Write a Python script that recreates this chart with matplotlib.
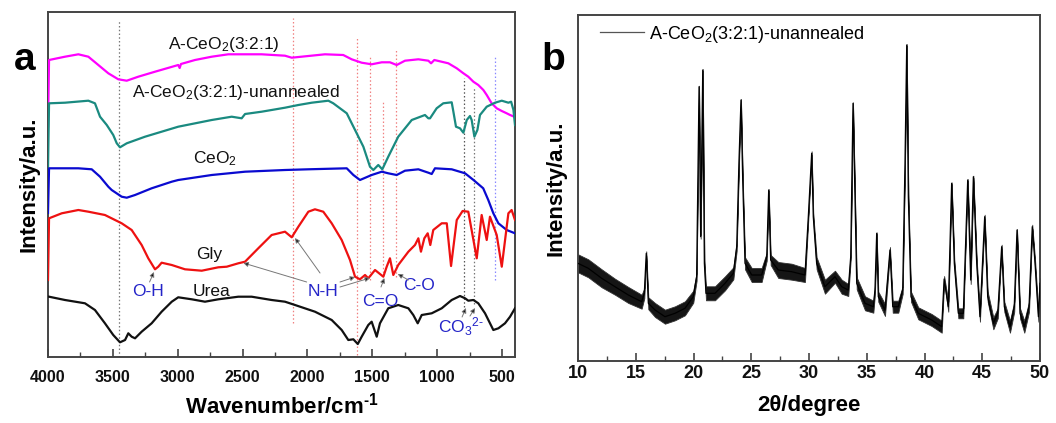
import matplotlib
matplotlib.use("Agg")
import matplotlib.pyplot as plt
from matplotlib.ticker import MultipleLocator
from matplotlib.lines import Line2D

plt.rcParams['font.family'] = ['Liberation Sans', 'DejaVu Sans']
plt.rcParams['mathtext.default'] = 'regular'

# ---------------- Panel a: FTIR ----------------
wn_ann = [4000, 3992, 3869, 3766, 3689, 3612, 3535, 3458, 3393, 3304, 3175, 2996, 2985, 2975,
          2867, 2738, 2610, 2353, 2173, 2121, 1993, 1865, 1724, 1659, 1582, 1505, 1427, 1364,
          1312, 1248, 1145, 1068, 1047, 1022, 914, 849, 801, 760, 721, 683, 644, 618, 580,
          541, 502, 464, 438, 400]
int_ann = [230, 297, 300.3, 302.7, 300.3, 292, 283.7, 277.7, 276.3, 280.3, 285.3, 292, 289, 293,
           297, 300.3, 302.7, 302.7, 301.3, 299.3, 301, 302.7, 302, 297.7, 294.3, 292.7, 294.7, 294.7,
           292, 296.3, 297.7, 296.3, 293.7, 297, 293.7, 288.7, 284, 280.3, 275.3, 272, 267, 262, 253.7,
           248.7, 246, 243.7, 242, 240]

wn_unann = [4000, 3992, 3869, 3689, 3638, 3599, 3547, 3497, 3470, 3445, 3393, 3252, 2996, 2738,
            2584, 2507, 2481, 2353, 2173, 2070, 1967, 1839, 1801, 1749, 1697, 1633, 1569, 1518,
            1492, 1454, 1423, 1377, 1300, 1196, 1094, 1068, 1055, 1004, 953, 888, 875, 855, 824,
            798, 772, 747, 734, 713, 690, 670, 618, 554, 502, 451, 430, 412, 400]
int_unann = [188, 253.7, 254.3, 256.3, 253.7, 240.3, 232, 222, 213.7, 209.7, 213.7, 220.3, 230.3, 237,
             240.3, 238.7, 243, 245.3, 249.3, 252, 254.3, 256.3, 253.7, 248.7, 243.7, 227, 210.3, 190.3,
             187, 192, 187.7, 200.3, 220.3, 237, 242, 238.7, 238.7, 248.7, 253.7, 254.7, 245.3, 230.3, 228.7,
             224.3, 237, 241, 237, 220.3, 227, 242, 250.3, 254.3, 256.3, 254.3, 255.3, 247, 232]

wn_ceo2 = [4000, 3992, 3766, 3663, 3599, 3535, 3509, 3432, 3393, 3329, 3201, 3046, 2996, 2738,
           2481, 2173, 1993, 1697, 1646, 1595, 1505, 1427, 1377, 1312, 1248, 1145, 1068, 1042,
           1017, 888, 785, 720, 645, 606, 567, 528, 464, 400]
int_ceo2 = [144, 188.7, 188.7, 187.7, 180.3, 170.3, 167, 160.3, 159.3, 162, 168.7, 175.3, 177, 182,
            185.3, 187, 187.7, 188.7, 182, 177, 182, 185.3, 183.7, 182, 186.3, 187.7, 184.3, 183,
            188.7, 187.7, 183.7, 177, 168.7, 157, 143.7, 133.7, 127, 123.7]

wn_gly = [4000, 3992, 3894, 3766, 3689, 3561, 3432, 3355, 3278, 3227, 3175, 3150, 3124, 3046,
          2944, 2815, 2687, 2622, 2533, 2481, 2379, 2276, 2173, 2121, 2070, 1993, 1942, 1878,
          1813, 1736, 1672, 1633, 1595, 1556, 1531, 1479, 1415, 1389, 1364, 1338, 1300, 1222,
          1171, 1145, 1125, 1099, 1073, 1053, 1030, 965, 926, 893, 849, 804, 760, 695, 657,
          618, 593, 541, 502, 451, 426, 400]
int_gly = [77, 138.7, 143.7, 147, 145.3, 142, 133.7, 127, 112, 98.7, 87.7, 90.3, 94.3, 92,
           87.7, 86.3, 89.7, 90.3, 93.7, 95.3, 108.7, 122, 125.3, 119.7, 130.3, 145.3, 147.7, 145.3,
           133.7, 117, 97, 80.3, 77.7, 82, 78.7, 87, 80.3, 90.3, 98.7, 82, 92, 105.3,
           112, 118.7, 105.3, 118.7, 123.7, 112, 127, 133.7, 133.7, 91, 137, 146, 145.3, 98.7, 142,
           117, 140.3, 122, 90.3, 143.7, 147, 137]

wn_urea = [3992, 3869, 3715, 3638, 3561, 3497, 3445, 3406, 3381, 3355, 3329, 3278, 3201, 3124,
           3046, 2996, 2892, 2790, 2687, 2533, 2430, 2276, 2173, 2096, 1942, 1813, 1736, 1685,
           1646, 1612, 1582, 1531, 1505, 1466, 1441, 1377, 1300, 1222, 1184, 1150, 1119, 1042,
           965, 888, 824, 785, 760, 721, 683, 631, 567, 528, 477, 438, 400]
int_urea = [60.3, 57, 53.7, 47, 33.7, 22, 14.7, 17, 23.7, 20.3, 18.7, 25.3, 33.7, 45.3,
            55.3, 59.7, 57.7, 55.3, 57.7, 60.3, 60.3, 57, 55.3, 52, 45.3, 37, 27, 17,
            17.7, 13, 20.3, 32, 35.3, 20.3, 33.7, 48.7, 52, 48.7, 42, 33.7, 42, 43.7,
            48.7, 57, 61, 58.7, 56.3, 57, 53.7, 43.7, 27, 28.7, 33.7, 40.3, 48.7]

# guide lines: wavenumber, lower, upper, colour
guide_wn = [3450, 2115, 1615, 1515, 1415, 1315, 795, 715, 555]
guide_lo = [0, 34, 2, 77, 77, 80, 50, 53, 77]
guide_hi = [337, 339, 319, 302, 257, 307, 279, 269, 300]
guide_col = ['#777777', '#f08080', '#f08080', '#f08080', '#f08080', '#f08080',
             '#555555', '#777777', '#8888ff']

# curve labels
curve_labels = ['A-CeO$_2$(3:2:1)', 'A-CeO$_2$(3:2:1)-unannealed', 'CeO$_2$', 'Gly', 'Urea']
curve_label_wn = [2643, 2552, 2714, 2761, 2740]
curve_label_int = [313, 265, 198, 102, 66]

# band labels (blue)
band_labels = ['O-H', 'N-H', 'C=O', 'C-O', 'CO$_3$$^{2\u2010}$']
band_label_wn = [3228, 1882, 1438, 1138, 817]
band_label_int = [66, 65, 56, 71, 30]

# arrows: tail -> head
arrow_tail_wn = [3217, 1903, 2006, 1749, 1749, 1433, 1222, 808, 747]
arrow_tail_int = [75, 84, 75, 75, 70, 70, 77, 40, 41]
arrow_head_wn = [3183, 2096, 2494, 1633, 1518, 1407, 1304, 778, 708]
arrow_head_int = [85, 119, 94, 80, 79, 79, 83, 49, 49]

# ---------------- Panel b: XRD ----------------
two_theta = [10.0, 10.89, 12.05, 13.2, 14.36, 15.51, 15.74, 15.91, 16.09, 16.67, 17.53, 18.4,
             19.26, 19.98, 20.27, 20.48, 20.62, 20.8, 20.94, 21.08, 21.86, 22.73, 23.45, 23.74,
             23.94, 24.11, 24.26, 24.46, 25.04, 25.9, 26.34, 26.51, 26.68, 27.34, 28.5, 29.65,
             29.94, 30.23, 30.37, 30.66, 31.38, 32.25, 32.83, 33.4, 33.61, 33.81, 33.98, 34.13,
             34.85, 35.57, 35.71, 35.86, 36.0, 36.58, 37.01, 37.25, 37.73, 38.11, 38.31, 38.46,
             38.6, 38.83, 39.46, 40.62, 41.49, 41.7, 42.06, 42.35, 42.58, 42.93, 43.36, 43.74,
             44.0, 44.23, 44.52, 44.8, 45.21, 45.47, 45.96, 46.34, 46.68, 46.91, 47.4, 47.77,
             48.01, 48.27, 48.64, 49.05, 49.33, 49.57, 49.86, 50.0]
xrd_int = [97.7, 92.7, 82.7, 74.3, 66, 59.3, 67.7, 107.7, 57.7, 51, 44.3, 47.7,
           52.7, 64.3, 84.3, 274.3, 124.3, 291, 97.7, 67.7, 67.7, 77.7, 87.7, 114.3,
           201, 261, 181, 97.7, 86, 86, 104.3, 171, 101, 91, 89.3, 86,
           144.3, 207.7, 144.3, 97.7, 74.3, 84.3, 74.3, 71, 104.3, 257.7, 164.3, 77.7,
           57.7, 54.3, 71, 127.7, 64.3, 51, 111, 54.3, 54.3, 71, 197.7, 316,
           164.3, 64.3, 47.7, 41, 34.3, 82, 54.3, 177.7, 97.7, 47.7, 47.7, 181,
           81, 184.3, 97.7, 44.3, 144.3, 64.3, 37.7, 47.7, 114.3, 54.3, 34.3, 54.3,
           131, 47.7, 34.3, 54.3, 134.3, 97.7, 44.3, 77.7]
xrd_noise = [9, 9, 9, 8, 8, 7, 5, 2, 6, 7, 7, 7,
             7, 6, 4, 1, 2, 1, 3, 7, 7, 7, 6, 4,
             4, 1, 3, 6, 7, 7, 4, 1, 5, 8, 8, 7,
             3, 2, 3, 6, 7, 6, 7, 6, 3, 1, 2, 6,
             7, 6, 4, 1, 5, 6, 3, 6, 6, 4, 2, 1,
             2, 5, 6, 6, 6, 3, 5, 1, 4, 5, 5, 1,
             4, 1, 4, 5, 2, 5, 6, 5, 2, 5, 6, 5,
             1, 5, 6, 5, 2, 4, 5, 5]
xrd_label = 'A-CeO$_2$(3:2:1)-unannealed'

# ---------------- figure ----------------
fig = plt.figure(figsize=(10.56, 4.23), dpi=100)
W, H = 1056, 423
ax1 = fig.add_axes([48 / W, 1 - 357 / H, 467 / W, 345 / H])
ax2 = fig.add_axes([578 / W, 1 - 361 / H, 462 / W, 346 / H])

spine_col = '#444444'
for ax in (ax1, ax2):
    for s in ax.spines.values():
        s.set_linewidth(1.4)
        s.set_color(spine_col)

# Panel a
for wn, lo, hi, c in zip(guide_wn, guide_lo, guide_hi, guide_col):
    ax1.vlines(wn, lo, hi, colors=c, linestyles=(0, (1.2, 1.8)), linewidth=0.9, zorder=1)

curve_cols = ['#ff00ff', '#1a8a80', '#0a0ad0', '#ee1111', '#111111']
series = [(wn_ann, int_ann), (wn_unann, int_unann), (wn_ceo2, int_ceo2),
          (wn_gly, int_gly), (wn_urea, int_urea)]
for (x, y), c in zip(series, curve_cols):
    ax1.plot(x, y, color=c, lw=1.6, zorder=3, solid_joinstyle='round')

for t, x, y in zip(curve_labels, curve_label_wn, curve_label_int):
    ax1.text(x, y, t, ha='center', va='center', fontsize=12.5, color='#111111')

for t, x, y in zip(band_labels, band_label_wn, band_label_int):
    ax1.text(x, y, t, ha='center', va='center', fontsize=12.5, color='#2424c8')

for tx, ty, hx, hy in zip(arrow_tail_wn, arrow_tail_int, arrow_head_wn, arrow_head_int):
    ax1.annotate('', xy=(hx, hy), xytext=(tx, ty),
                 arrowprops=dict(arrowstyle='-|>', color='#777777', lw=0.7,
                                 mutation_scale=7, shrinkA=0, shrinkB=0,
                                 fc='#111111', ec='#777777'))

ax1.set_xlim(4000, 400)
ax1.set_ylim(0, 345)
ax1.xaxis.set_major_locator(MultipleLocator(500))
ax1.xaxis.set_minor_locator(MultipleLocator(250))
ax1.tick_params(axis='x', which='major', direction='in', length=6, width=1.2,
                colors=spine_col, labelcolor='#111111', pad=9)
ax1.tick_params(axis='x', which='minor', direction='in', length=3.5, width=1.0, colors=spine_col)
ax1.tick_params(axis='y', which='both', left=False, labelleft=False)
for lab in ax1.get_xticklabels():
    lab.set_fontweight('bold')
    lab.set_fontsize(11.5)
ax1.set_xlabel('Wavenumber/cm$^{\u2010 1}$', fontsize=16, fontweight='bold', labelpad=6)
ax1.set_ylabel('Intensity/a.u.', fontsize=16, fontweight='bold', labelpad=6)

# Panel b
ax2.fill_between(two_theta, [a - n for a, n in zip(xrd_int, xrd_noise)],
                 [a + n for a, n in zip(xrd_int, xrd_noise)], facecolor='#151515',
                 edgecolor='#333333', lw=0.6, zorder=2)
ax2.plot(two_theta, xrd_int, color='#000000', lw=0.9, zorder=3)
ax2.set_xlim(10, 50)
ax2.set_ylim(0, 346)
ax2.xaxis.set_major_locator(MultipleLocator(5))
ax2.xaxis.set_minor_locator(MultipleLocator(2.5))
ax2.tick_params(axis='x', which='major', direction='in', length=6, width=1.2,
                colors=spine_col, labelcolor='#111111', pad=3)
ax2.tick_params(axis='x', which='minor', direction='in', length=3.5, width=1.0, colors=spine_col)
ax2.tick_params(axis='y', which='both', left=False, labelleft=False)
for lab in ax2.get_xticklabels():
    lab.set_fontweight('bold')
    lab.set_fontsize(13)
ax2.set_xlabel('2θ/degree', fontsize=16, fontweight='bold', labelpad=9)
ax2.set_ylabel('Intensity/a.u.', fontsize=16, fontweight='bold', labelpad=8)

ax2.legend(handles=[Line2D([], [], color='#555555', lw=0.9)], labels=[xrd_label],
           loc='upper left', bbox_to_anchor=(0.048, 0.975), frameon=False,
           borderpad=0, borderaxespad=0, handlelength=2.4, handletextpad=0.3,
           fontsize=13)

fig.text(25 / W, 1 - 70 / H, 'a', fontsize=28, fontweight='bold', ha='center', va='baseline')
fig.text(553 / W, 1 - 70 / H, 'b', fontsize=28, fontweight='bold', ha='center', va='baseline')

fig.savefig('out.png', dpi=100)
